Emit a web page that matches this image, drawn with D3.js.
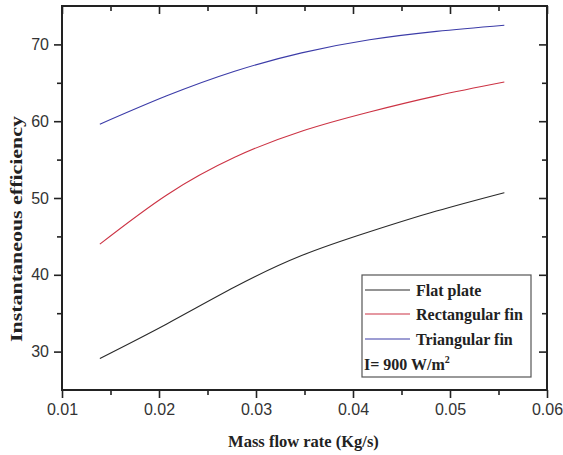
<!DOCTYPE html>
<html>
<head>
<meta charset="utf-8">
<script src="https://cdn.jsdelivr.net/npm/d3@7"></script>
<style>
  html, body { margin: 0; padding: 0; background: #fff; }
  svg { display: block; }
</style>
</head>
<body>
<svg id="chart" width="563" height="455"></svg>
<script>
// ---- data ----
const massFlow = [0.0139, 0.0208, 0.0278, 0.0347, 0.0417, 0.0486, 0.0556];
const flatPlate = [29.1, 33.6, 38.4, 42.5, 45.6, 48.3, 50.7];
const rectangularFin = [44.0, 50.4, 55.3, 58.7, 61.2, 63.3, 65.1];
const triangularFin = [59.6, 63.3, 66.5, 68.9, 70.6, 71.7, 72.5];
const seriesNames = ["Flat plate", "Rectangular fin", "Triangular fin"];
const seriesColors = ["#2a2a2a", "#cc3344", "#3c3ca8"];
const xTicks = [0.01, 0.02, 0.03, 0.04, 0.05, 0.06];
const xMinorTicks = [0.015, 0.025, 0.035, 0.045, 0.055];
const yTicks = [30, 40, 50, 60, 70];
const yMinorTicks = [35, 45, 55, 65];
const xTitle = "Mass flow rate (Kg/s)";
const yTitle = "Instantaneous efficiency";
const irradianceLabel = "I= 900 W/m";

// ---- layout ----
const svg = d3.select("#chart");
const L = 62, R = 547, T = 6, B = 390;
const x = d3.scaleLinear().domain([0.01, 0.06]).range([L, R]);
const y = d3.scaleLinear().domain([25, 75]).range([B, T]);
const axisColor = "#222";
const tickFont = "'Liberation Sans', Arial, sans-serif";
const serif = "'Liberation Serif', 'Times New Roman', serif";

function styleAxis(g) {
  g.select(".domain").remove();
  g.selectAll(".tick line").attr("stroke", axisColor).attr("stroke-width", 1.6);
  g.selectAll(".tick text").attr("fill", "#333").attr("font-family", tickFont).attr("font-size", "16px");
}

// bottom
svg.append("g").attr("transform", `translate(0,${B})`)
  .call(d3.axisBottom(x).tickValues(xTicks).tickFormat(d3.format(".2f")).tickSize(8).tickPadding(6))
  .call(styleAxis);
svg.append("g").attr("transform", `translate(0,${B})`)
  .call(d3.axisBottom(x).tickValues(xMinorTicks).tickFormat("").tickSize(5))
  .call(styleAxis);
// top (inward)
svg.append("g").attr("transform", `translate(0,${T})`)
  .call(d3.axisBottom(x).tickValues(xTicks).tickFormat("").tickSize(8))
  .call(styleAxis);
svg.append("g").attr("transform", `translate(0,${T})`)
  .call(d3.axisBottom(x).tickValues(xMinorTicks).tickFormat("").tickSize(5))
  .call(styleAxis);
// left
svg.append("g").attr("transform", `translate(${L},0)`)
  .call(d3.axisLeft(y).tickValues(yTicks).tickFormat(d3.format("d")).tickSize(8).tickPadding(5))
  .call(styleAxis);
svg.append("g").attr("transform", `translate(${L},0)`)
  .call(d3.axisLeft(y).tickValues(yMinorTicks).tickFormat("").tickSize(5))
  .call(styleAxis);
// right (inward)
svg.append("g").attr("transform", `translate(${R},0)`)
  .call(d3.axisLeft(y).tickValues(yTicks).tickFormat("").tickSize(8))
  .call(styleAxis);
svg.append("g").attr("transform", `translate(${R},0)`)
  .call(d3.axisLeft(y).tickValues(yMinorTicks).tickFormat("").tickSize(5))
  .call(styleAxis);

// frame
svg.append("rect").attr("x", L).attr("y", T).attr("width", R - L).attr("height", B - T)
  .attr("fill", "none").attr("stroke", axisColor).attr("stroke-width", 2);

// lines
const seriesData = [flatPlate, rectangularFin, triangularFin];
const line = d3.line().x((d, i) => x(massFlow[i])).y(d => y(d)).curve(d3.curveNatural);
seriesData.forEach((vals, k) => {
  svg.append("path").datum(vals).attr("d", line)
    .attr("fill", "none").attr("stroke", seriesColors[k]).attr("stroke-width", 1.1);
});

// axis titles
svg.append("text").attr("x", (L + R) / 2 - 1).attr("y", 447).attr("text-anchor", "middle")
  .attr("font-family", serif).attr("font-weight", "bold").attr("font-size", "16.5px").attr("fill", "#222")
  .text(xTitle);
svg.append("text").attr("transform", "translate(22,229) rotate(-90)").attr("text-anchor", "middle")
  .attr("font-family", serif).attr("font-weight", "bold").attr("font-size", "16px").attr("fill", "#222")
  .attr("textLength", 226).attr("lengthAdjust", "spacingAndGlyphs")
  .text(yTitle);

// legend
const lg = svg.append("g");
lg.append("rect").attr("x", 362).attr("y", 275).attr("width", 169).attr("height", 102)
  .attr("fill", "#fff").attr("stroke", "#555").attr("stroke-width", 1.2);
const rowY = [290, 314, 339];
const textY = [296, 320, 345];
seriesNames.forEach((name, k) => {
  lg.append("line").attr("x1", 365).attr("x2", 410).attr("y1", rowY[k]).attr("y2", rowY[k])
    .attr("stroke", seriesColors[k]).attr("stroke-width", 1.1);
  lg.append("text").attr("x", 416).attr("y", textY[k])
    .attr("font-family", serif).attr("font-weight", "bold").attr("font-size", "16px").attr("fill", "#222")
    .text(name);
});
const irr = lg.append("text").attr("x", 364).attr("y", 370)
  .attr("font-family", serif).attr("font-weight", "bold").attr("font-size", "16px").attr("fill", "#222");
irr.append("tspan").text(irradianceLabel);
irr.append("tspan").attr("dy", -7).attr("font-size", "10px").text("2");
</script>
</body>
</html>
